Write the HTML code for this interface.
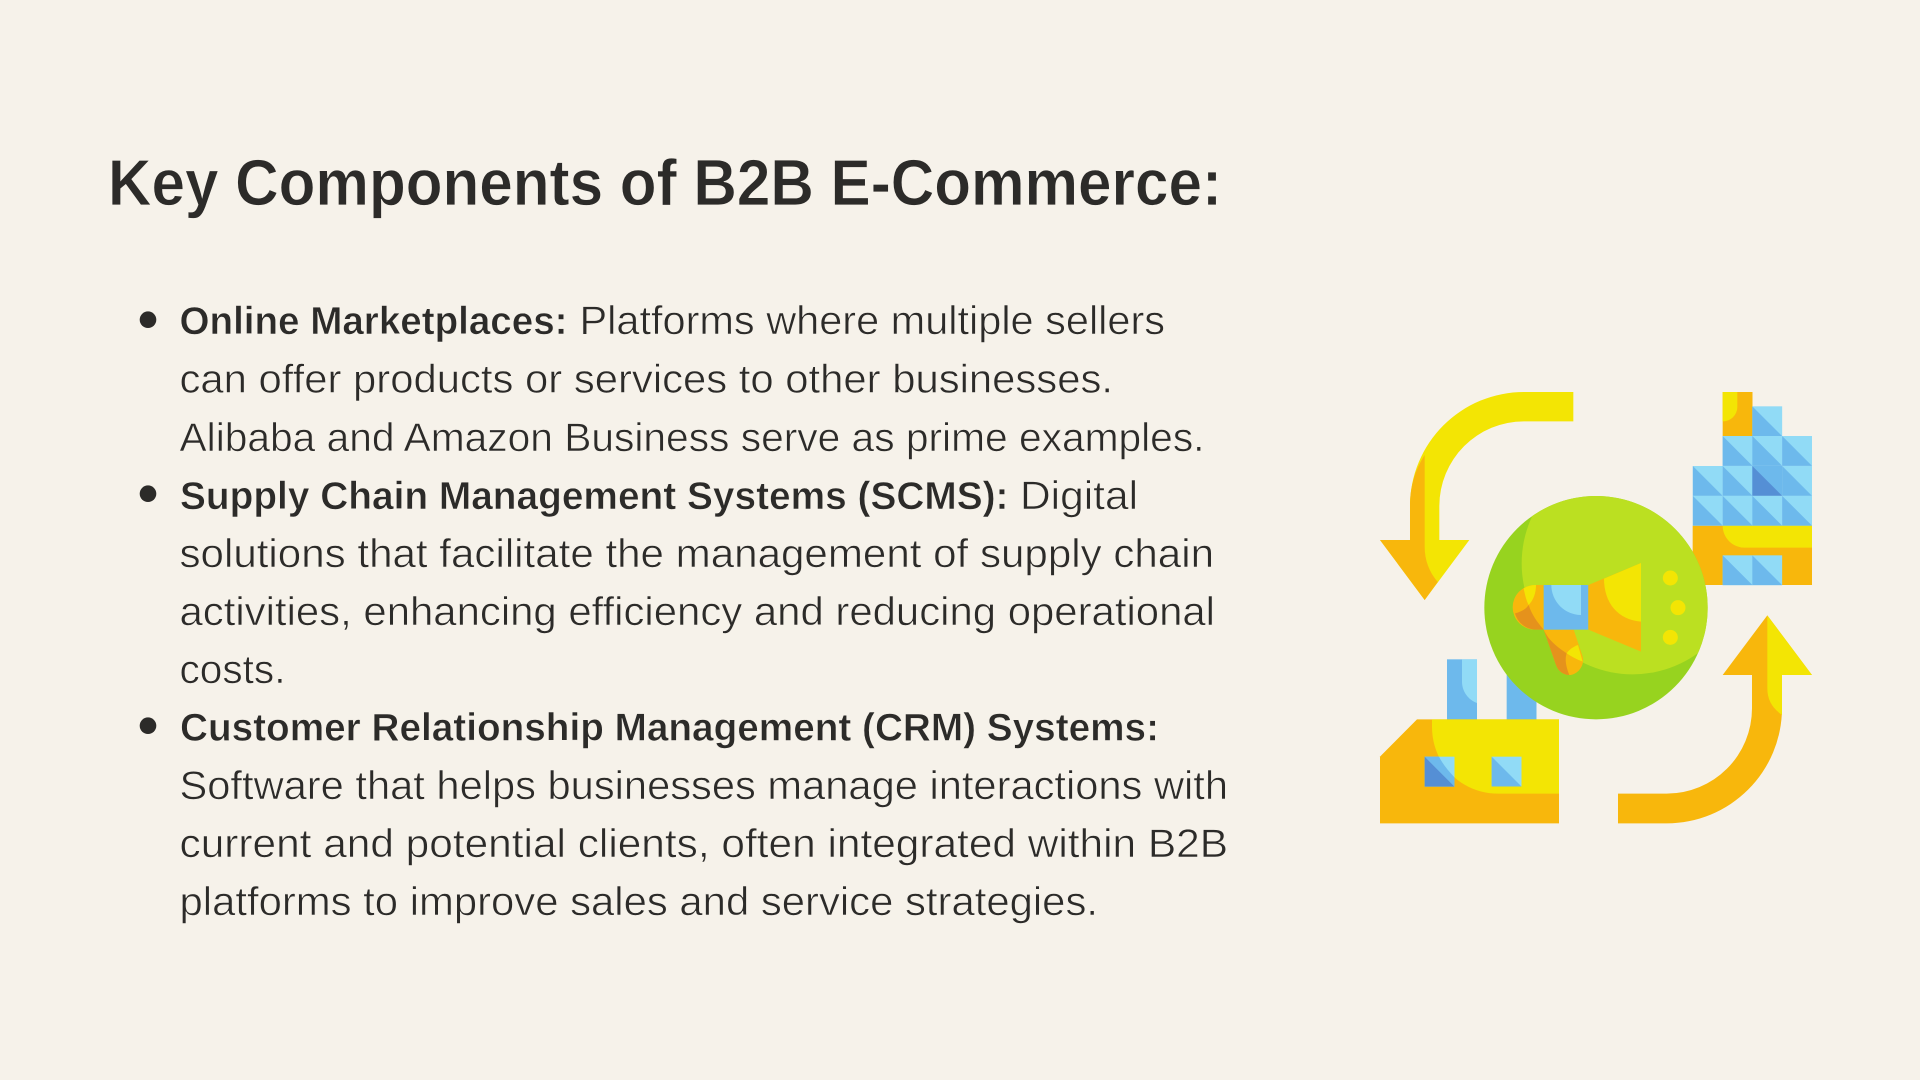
<!DOCTYPE html>
<html lang="en">
<head>
<meta charset="utf-8">
<title>Key Components of B2B E-Commerce</title>
<style>
html,body{margin:0;padding:0;width:1920px;height:1080px;background:#f6f2ea;overflow:hidden}
svg{display:block}
text{font-family:"Liberation Sans",sans-serif;fill:#2c2b29;stroke:#f6f2ea}
.t{font-size:65px;font-weight:700;stroke-width:.7px}
.b{font-size:38.5px;font-weight:700;stroke-width:.55px}
.r{font-size:39.5px;font-weight:400;stroke-width:.6px}
</style>
</head>
<body>
<svg width="1920" height="1080" viewBox="0 0 1920 1080" xmlns="http://www.w3.org/2000/svg">
<rect width="1920" height="1080" fill="#f6f2ea"/>

<text class="t" x="108" y="205" textLength="1114" lengthAdjust="spacingAndGlyphs">Key Components of B2B E-Commerce:</text>

<circle cx="148" cy="319.700" r="8.3" fill="#2c2b29"/>
<circle cx="148" cy="493.700" r="8.3" fill="#2c2b29"/>
<circle cx="148" cy="725.700" r="8.3" fill="#2c2b29"/>

<text class="b" x="179.5" y="334" textLength="388" lengthAdjust="spacingAndGlyphs">Online Marketplaces:</text>
<text class="r" x="579.5" y="334" textLength="585.500" lengthAdjust="spacingAndGlyphs">Platforms where multiple sellers</text>
<text class="r" x="179.5" y="392.500" textLength="933.500" lengthAdjust="spacingAndGlyphs">can offer products or services to other businesses.</text>
<text class="r" x="179.5" y="451" textLength="1025" lengthAdjust="spacingAndGlyphs">Alibaba and Amazon Business serve as prime examples.</text>
<text class="b" x="180" y="509" textLength="828.500" lengthAdjust="spacingAndGlyphs">Supply Chain Management Systems (SCMS):</text>
<text class="r" x="1020" y="509" textLength="118" lengthAdjust="spacingAndGlyphs">Digital</text>
<text class="r" x="179.5" y="567.200" textLength="1034.500" lengthAdjust="spacingAndGlyphs">solutions that facilitate the management of supply chain</text>
<text class="r" x="179.5" y="625.200" textLength="1035.500" lengthAdjust="spacingAndGlyphs">activities, enhancing efficiency and reducing operational</text>
<text class="r" x="179.5" y="683.200" textLength="106" lengthAdjust="spacingAndGlyphs">costs.</text>
<text class="b" x="180" y="740.7" textLength="979" lengthAdjust="spacingAndGlyphs">Customer Relationship Management (CRM) Systems:</text>
<text class="r" x="179.5" y="799" textLength="1048.500" lengthAdjust="spacingAndGlyphs">Software that helps businesses manage interactions with</text>
<text class="r" x="179.5" y="857" textLength="1048.500" lengthAdjust="spacingAndGlyphs">current and potential clients, often integrated within B2B</text>
<text class="r" x="179.5" y="915" textLength="918.500" lengthAdjust="spacingAndGlyphs">platforms to improve sales and service strategies.</text>

<g transform="translate(1360 380) scale(.33333)">
  <defs>
    <clipPath id="c"><circle cx="708" cy="683" r="335"/></clipPath>
    <g id="sq">
      <rect width="89.5" height="89.5" fill="#91dbf6"/>
      <path d="M0 0L89.5 89.5H0Z" fill="#6db9ec"/>
    </g>
  </defs>

  <!-- top-left arrow -->
  <path d="M640 36V124H492A254 254 0 0 0 238 378V480H328L194 660L60 480H150V378A342 342 0 0 1 492 36Z" fill="#f3e504"/>
  <path d="M194 225V500C194 540 207 575 233 606L194 660L60 480H150V378C150 320 165 270 194 225Z" fill="#f8b70c"/>

  <!-- bottom-right arrow -->
  <path d="M774 1330V1241H920A256 256 0 0 0 1176 985V885H1088L1222 706L1356 885H1266V985A346 346 0 0 1 920 1330Z" fill="#f8b70c"/>
  <path d="M1222 706L1356 885H1266V1005C1238 985 1222 960 1222 925Z" fill="#f3e504"/>

  <!-- right building -->
  <rect x="998" y="437" width="358" height="178" fill="#f8b70c"/>
  <path d="M1088 437H1356V503H1155A66 66 0 0 1 1088 437Z" fill="#f3e504"/>
  <use href="#sq" x="1088" y="526"/><use href="#sq" x="1177" y="526"/>
  <rect x="1088" y="36" width="89.5" height="132" fill="#f8b70c"/>
  <path d="M1088 36H1132V82A43 43 0 0 1 1088 124Z" fill="#f3e504"/>
  <use href="#sq" x="1177" y="79"/>
  <use href="#sq" x="1088" y="168"/><use href="#sq" x="1177" y="168"/><use href="#sq" x="1266.5" y="168"/>
  <use href="#sq" x="998.5" y="258"/><use href="#sq" x="1088" y="258"/><use href="#sq" x="1266.5" y="258"/>
  <rect x="1177" y="258" width="89.5" height="89.5" fill="#6db9ec"/>
  <path d="M1177 258L1266.5 347.5H1177Z" fill="#558fd5"/>
  <use href="#sq" x="998.5" y="347.5"/><use href="#sq" x="1088" y="347.5"/><use href="#sq" x="1177" y="347.5"/><use href="#sq" x="1266.5" y="347.5"/>

  <!-- factory -->
  <rect x="261" y="838" width="90" height="182" fill="#6db9ec"/>
  <path d="M306 838H351V969C325 960 306 935 306 905Z" fill="#91dbf6"/>
  <rect x="440" y="870" width="89.5" height="150" fill="#6db9ec"/>
  <path d="M171 1018H597V1330H60V1130Z" fill="#f8b70c"/>
  <path d="M216 1018H597V1241H415C300 1241 216 1150 216 1040Z" fill="#f3e504"/>
  <rect x="194" y="1130" width="89.5" height="90" fill="#91dbf6"/>
  <path d="M194 1130H237C248 1152 264 1172 283.500 1192V1220Z" fill="#6db9ec"/>
  <path d="M194 1130L283.500 1220H194Z" fill="#558fd5"/>
  <use href="#sq" x="395" y="1130"/>

  <!-- globe -->
  <circle cx="708" cy="683" r="335" fill="#97d31f"/>
  <circle cx="818" cy="550" r="333" fill="#bbe021" clip-path="url(#c)"/>

  <!-- megaphone -->
  <path d="M551 749H641L668 830C675 860 650 885 628 885C610 885 594 873 588 855Z" fill="#f8b70c"/>
  <path d="M551 749C565 780 590 800 620 820C613 840 620 865 628 885C610 885 594 873 588 855Z" fill="#e5921c"/>
  <path d="M620 820C628 808 640 800 654 795L668 845C650 838 635 830 620 820Z" fill="#f3e504"/>
  <path d="M551 615H525A67 67 0 0 0 525 749H551Z" fill="#f8b70c"/>
  <path d="M465 700C485 695 498 687 506 675C515 705 535 730 551 749H525A67 67 0 0 1 465 700Z" fill="#e5921c"/>
  <path d="M491 625A67 67 0 0 1 525 615H528C528 640 520 660 506 675C498 660 494 640 491 625Z" fill="#f3e504"/>
  <rect x="551" y="615" width="134" height="134" fill="#6db9ec"/>
  <path d="M574 615H663V705A90 90 0 0 1 574 615Z" fill="#91dbf6"/>
  <path d="M685 615L843 549V815L685 749Z" fill="#f8b70c"/>
  <path d="M732 596L843 549V725C775 720 732 670 732 596Z" fill="#f3e504"/>
  <circle cx="931" cy="594" r="22.500" fill="#f3e504"/>
  <circle cx="954" cy="683" r="22.500" fill="#f3e504"/>
  <circle cx="931" cy="772" r="22.500" fill="#f3e504"/>
</g>
</svg>
</body>
</html>
